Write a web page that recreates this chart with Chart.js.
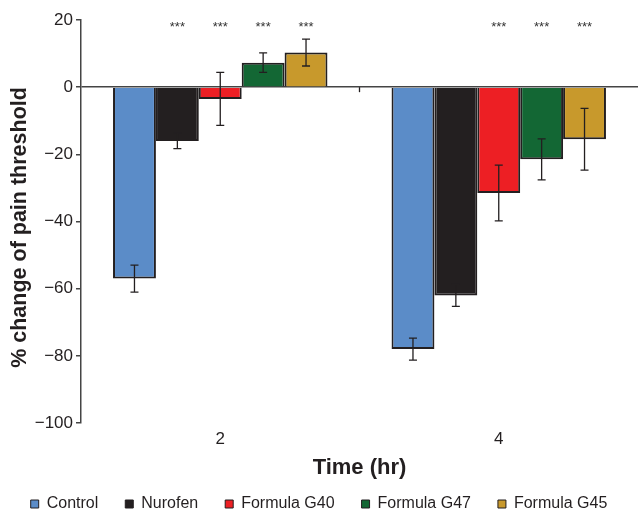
<!DOCTYPE html>
<html>
<head>
<meta charset="utf-8">
<script src="https://cdn.jsdelivr.net/npm/chart.js@4.4.1/dist/chart.umd.min.js"></script>
<style>
  html, body { margin: 0; padding: 0; background: #fff; }
  #c { display: block; }
</style>
</head>
<body>
<canvas id="c" width="638" height="510"></canvas>
<script>
// time points (hr)
const times = ['2', '4'];
const groups = ['Control', 'Nurofen', 'Formula G40', 'Formula G47', 'Formula G45'];

// mean % change of pain threshold
const control = [-57, -78];
const nurofen = [-16, -62];
const g40 = [-3.5, -31.5];
const g47 = [7.3, -21.5];
const g45 = [10.3, -15.5];

// error (±)
const controlErr = [4, 3.3];
const nurofenErr = [2.3, 3.3];
const g40Err = [7.9, 8.3];
const g47Err = [2.9, 6.1];
const g45Err = [4, 9.2];

// significance marks
const controlSig = ['', ''];
const nurofenSig = ['***', ''];
const g40Sig = ['***', '***'];
const g47Sig = ['***', '***'];
const g45Sig = ['***', '***'];

const yTicks = [20, 0, -20, -40, -60, -80, -100];

const EDGE = '#231f20';
const COLORS = ['#5b8cc8', '#231f20', '#ed1f24', '#136734', '#c8992c'];
const FONT = "'Liberation Sans', Arial, sans-serif";

const values = [control, nurofen, g40, g47, g45];
const errs = [controlErr, nurofenErr, g40Err, g47Err, g45Err];
const sigs = [controlSig, nurofenSig, g40Sig, g47Sig, g45Sig];

const errorBars = {
    id: 'errorBars',
    afterDatasetsDraw(chart) {
        const { ctx, scales: { x, y } } = chart;
        ctx.save();
        ctx.strokeStyle = EDGE;
        ctx.lineWidth = 1.3;
        chart.data.datasets.forEach((ds, i) => {
            chart.getDatasetMeta(i).data.forEach((bar, j) => {
                const v = ds.data[j], e = ds.err[j];
                const bx = bar.x;
                const y1 = y.getPixelForValue(v + e), y2 = y.getPixelForValue(v - e);
                ctx.beginPath();
                ctx.moveTo(bx, y1); ctx.lineTo(bx, y2);
                ctx.moveTo(bx - 4, y1); ctx.lineTo(bx + 4, y1);
                ctx.moveTo(bx - 4, y2); ctx.lineTo(bx + 4, y2);
                ctx.stroke();
                if (ds.sig[j]) {
                    ctx.fillStyle = '#333';
                    ctx.font = '13px ' + FONT;
                    ctx.textAlign = 'center';
                    ctx.textBaseline = 'middle';
                    ctx.fillText(ds.sig[j], bx, y.getPixelForValue(17.7));
                }
            });
        });
        // small tick between the two time points on the zero line
        const mid = (x.getPixelForValue(0) + x.getPixelForValue(1)) / 2;
        const y0 = y.getPixelForValue(0);
        ctx.beginPath();
        ctx.moveTo(mid, y0); ctx.lineTo(mid, y0 + 5);
        ctx.stroke();
        ctx.restore();
    }
};

new Chart(document.getElementById('c'), {
    type: 'bar',
    data: {
        labels: times,
        datasets: groups.map((g, i) => ({
            label: g,
            data: values[i],
            err: errs[i],
            sig: sigs[i],
            backgroundColor: COLORS[i],
            borderColor: EDGE,
            borderWidth: 2,
            barPercentage: 1,
            categoryPercentage: 0.77
        }))
    },
    options: {
        responsive: false,
        animation: false,
        layout: { padding: { top: 20, right: 0, left: 0, bottom: -12 } },
        plugins: {
            legend: {
                position: 'bottom',
                labels: {
                    font: { family: FONT, size: 16 },
                    color: EDGE,
                    boxWidth: 8,
                    boxHeight: 8,
                    padding: 27,
                    generateLabels(chart) {
                        return chart.data.datasets.map((ds, i) => ({
                            text: ds.label,
                            fillStyle: ds.backgroundColor,
                            strokeStyle: EDGE,
                            lineWidth: 1,
                            fontColor: EDGE,
                            datasetIndex: i
                        }));
                    }
                }
            },
            tooltip: { enabled: false }
        },
        scales: {
            x: {
                afterFit(scale) { scale.height = 46; },
                grid: { display: false, drawTicks: false },
                border: { display: false },
                ticks: { font: { family: FONT, size: 17 }, color: EDGE, padding: 6 },
                title: {
                    display: true, text: 'Time (hr)',
                    font: { family: FONT, size: 22, weight: 'bold' }, color: EDGE,
                    padding: { top: 0, bottom: -12 }
                }
            },
            y: {
                min: -100, max: 20,
                afterFit(scale) { scale.width = 81; },
                afterBuildTicks(scale) { scale.ticks = yTicks.map(v => ({ value: v })); },
                grid: {
                    color: ctx => ctx.tick && ctx.tick.value === 0 ? '#444' : 'rgba(0,0,0,0)',
                    lineWidth: 1.5,
                    tickColor: '#444',
                    tickLength: 5
                },
                border: { display: true, color: '#444', width: 1.5 },
                ticks: {
                    font: { family: FONT, size: 17 }, color: EDGE, padding: 3,
                    callback: v => String(v).replace('-', '\u2212')
                },
                title: {
                    display: true, text: '% change of pain threshold  ',
                    font: { family: FONT, size: 21.5, weight: 'bold' }, color: EDGE,
                    padding: { top: 7, bottom: 0 }
                }
            }
        }
    },
    plugins: [errorBars]
});
</script>
</body>
</html>
